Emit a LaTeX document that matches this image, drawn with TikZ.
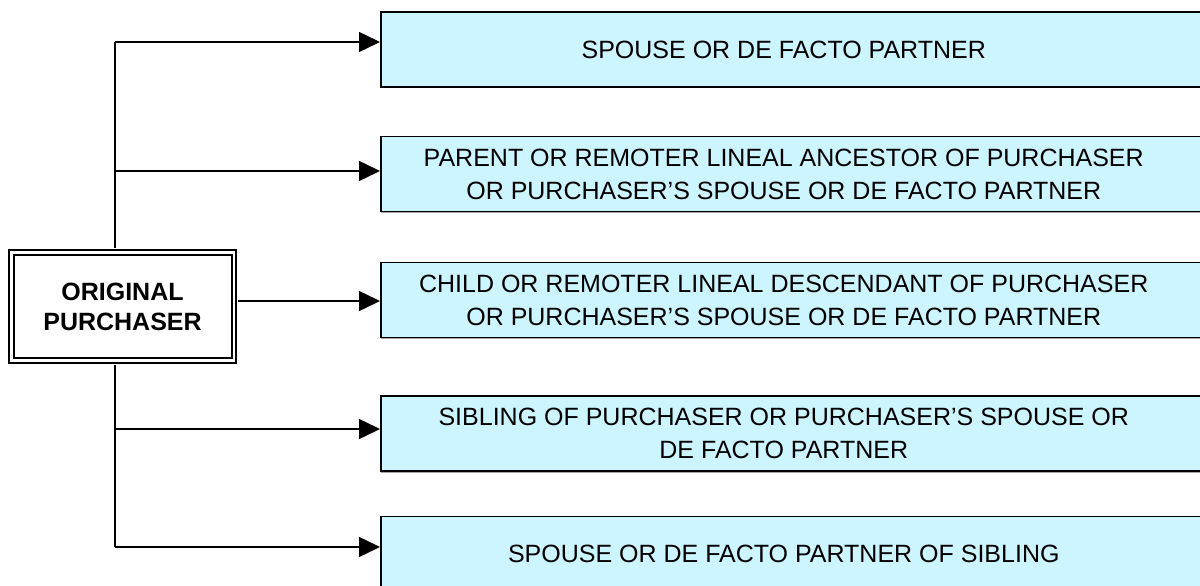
\documentclass[tikz,border=0pt]{standalone}
\usepackage{fontspec}
\setmainfont{Liberation Sans}
\usetikzlibrary{arrows.meta,shadows}
\definecolor{boxfill}{RGB}{204,245,255}
\begin{document}
\begin{tikzpicture}[x=1pt,y=-1pt,
  conn/.style={line width=1.5pt,draw=black},
  arr/.style={conn,-{Triangle[length=21pt,width=20pt]}},
  relbox/.style={draw=black,line width=1.5pt,fill=boxfill,rectangle,
    minimum width=840pt,minimum height=75pt,anchor=west,inner sep=0pt,
    drop shadow={shadow xshift=0pt,shadow yshift=-1.5pt,fill=gray!70,opacity=1}},
  lbl/.style={xshift=-17pt,align=center,font=\fontsize{25}{33}\selectfont,inner sep=0pt},
  origbox/.style={draw=black,line width=2pt,double=white,double distance=2.5pt,
    minimum width=222.5pt,minimum height=108pt,inner sep=0pt,align=center,
    font=\fontsize{25}{30}\selectfont\bfseries}
]
\useasboundingbox (0,0) rectangle (1200,586);
\begin{scope}
\clip (0,0) rectangle (1200,586);
\node[relbox,label={[lbl]center:SPOUSE OR DE FACTO PARTNER}] (b1) at (380,49.5) {};
\node[relbox,label={[lbl]center:PARENT OR REMOTER LINEAL ANCESTOR OF PURCHASER\\OR PURCHASER’S SPOUSE OR DE FACTO PARTNER}] (b2) at (380,174) {};
\node[relbox,label={[lbl]center:CHILD OR REMOTER LINEAL DESCENDANT OF PURCHASER\\OR PURCHASER’S SPOUSE OR DE FACTO PARTNER}] (b3) at (380,300) {};
\node[relbox,label={[lbl]center:SIBLING OF PURCHASER OR PURCHASER’S SPOUSE OR\\DE FACTO PARTNER}] (b4) at (380,433.5) {};
\node[relbox,label={[lbl]center:SPOUSE OR DE FACTO PARTNER OF SIBLING}] (b5) at (380,554) {};
\end{scope}
\node[origbox] (orig) at (122.5,306.5) {ORIGINAL\\PURCHASER};
\coordinate (t1) at (115,42);
\coordinate (t2) at (115,171);
\coordinate (t3) at (115,301);
\coordinate (t4) at (115,429);
\coordinate (t5) at (115,547);
\draw[conn] ([yshift=3.5pt]orig.north -| t1) -- (t1);
\draw[conn] ([yshift=-3.5pt]orig.south -| t5) -- (t5);
\draw[arr] (t1) -- (t1 -| b1.west);
\draw[arr] (t2) -- (t2 -| b2.west);
\draw[arr] ([xshift=3.5pt]orig.east |- t3) -- (t3 -| b3.west);
\draw[arr] (t4) -- (t4 -| b4.west);
\draw[arr] (t5) -- (t5 -| b5.west);
\end{tikzpicture}
\end{document}
